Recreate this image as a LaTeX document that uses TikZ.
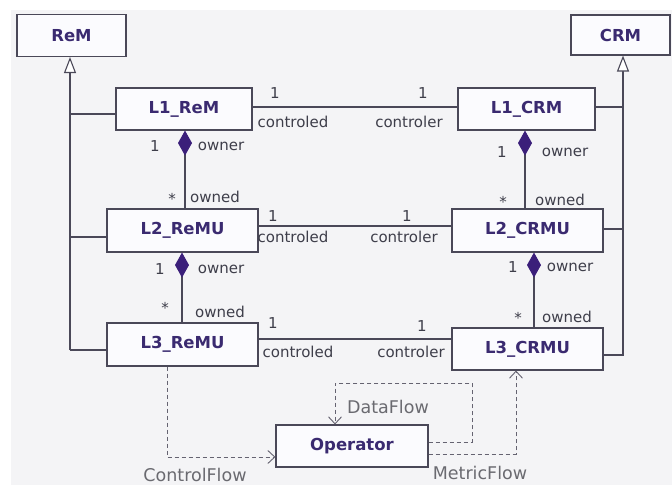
\documentclass[tikz,border=0pt]{standalone}
\usepackage{fontspec}
\setmainfont{DejaVu Sans}
\usetikzlibrary{arrows.meta}
\definecolor{bgc}{HTML}{F4F4F6}
\definecolor{boxfill}{HTML}{FBFBFE}
\definecolor{edge}{HTML}{4A4858}
\definecolor{boxtxt}{HTML}{3A2A70}
\definecolor{lbl}{HTML}{3E3E4A}
\definecolor{flowtxt}{HTML}{6A6A70}
\definecolor{dia}{HTML}{3B1F7A}
\tikzset{
  cls/.style={draw=edge, line width=1.1pt, fill=boxfill, text=boxtxt,
    font=\fontsize{16.5}{18}\selectfont\bfseries, inner sep=0pt,
    minimum height=42pt},
  conn/.style={draw=edge, line width=1.1pt},
  gen/.style={conn, -{Triangle[open, length=16pt, width=12pt, fill=white]}},
  comp/.style={conn, -{Diamond[length=25pt, width=14pt, fill=dia, color=dia]}},
  flow/.style={draw=edge!85, line width=1pt, dash pattern=on 4.5pt off 2.5pt,
    -{Straight Barb[length=7pt, width=13pt, line width=0.9pt]}},
  lab/.style={text=lbl, font=\fontsize{15}{17}\selectfont, inner sep=0pt},
  flab/.style={text=flowtxt, font=\fontsize{17.5}{19}\selectfont, inner sep=0pt},
}
\begin{document}
\begin{tikzpicture}[x=1pt,y=-1pt]
\useasboundingbox (0,0) rectangle (672,485);
\fill[white] (0,0) rectangle (672,485);
\fill[bgc] (11,10) rectangle (672,485);

% classes
\node[cls, minimum width=109pt] (ReM) at (71.5,35.5) {ReM};
\node[cls, minimum width=99pt, minimum height=40pt] (CRM) at (620.5,35) {CRM};
\node[cls, minimum width=136pt] (L1ReM) at (184,109) {L1\_ReM};
\node[cls, minimum width=137pt] (L1CRM) at (526.5,109) {L1\_CRM};
\node[cls, minimum width=151pt, minimum height=43pt] (L2ReMU) at (182.5,230.5) {L2\_ReMU};
\node[cls, minimum width=151pt, minimum height=43pt] (L2CRMU) at (527.5,230.5) {L2\_CRMU};
\node[cls, minimum width=151pt, minimum height=43pt] (L3ReMU) at (182.5,344.5) {L3\_ReMU};
\node[cls, minimum width=151pt] (L3CRMU) at (527.5,349) {L3\_CRMU};
\node[cls, minimum width=152pt] (Op) at (352,446) {Operator};

% helper coordinates
\coordinate (gl) at (70,0);
\coordinate (gr) at (623,0);
\coordinate (gl1) at (70,114);
\coordinate (gl2) at (70,237);
\coordinate (gl3) at (70,350);
\coordinate (gr1) at (623,107);
\coordinate (gr2) at (623,229);
\coordinate (gr3) at (623,355);
\coordinate (a1) at (0,107);
\coordinate (a2) at (0,226);
\coordinate (a3) at (0,339);
\coordinate (c1) at (185,0);
\coordinate (c2) at (182,0);
\coordinate (c3) at (525,0);
\coordinate (c4) at (534,0);
\coordinate (cfx) at (167,0);
\coordinate (cfy) at (0,457);
\coordinate (cfb) at (167,457);
\coordinate (dfy) at (0,442);
\coordinate (dfr) at (472,442);
\coordinate (dft) at (472,383);
\coordinate (dfl) at (335,383);
\coordinate (mfy) at (0,454);
\coordinate (mfr) at (516,454);

% generalizations
\draw[gen] (gl3) -- (ReM.south -| gl);
\draw[conn] (gl1) -- (L1ReM.west |- gl1);
\draw[conn] (gl2) -- (L2ReMU.west |- gl2);
\draw[conn] (gl3) -- (L3ReMU.west |- gl3);
\draw[gen] (L3CRMU.east |- gr3) -- (gr3) -- (CRM.south -| gr);
\draw[conn] (gr1) -- (L1CRM.east |- gr1);
\draw[conn] (gr2) -- (L2CRMU.east |- gr2);

% associations
\draw[conn] (L1ReM.east |- a1) -- (L1CRM.west |- a1);
\draw[conn] (L2ReMU.east |- a2) -- (L2CRMU.west |- a2);
\draw[conn] (L3ReMU.east |- a3) -- (L3CRMU.west |- a3);

% compositions
\draw[comp] (L2ReMU.north -| c1) -- (L1ReM.south -| c1);
\draw[comp] (L3ReMU.north -| c2) -- (L2ReMU.south -| c2);
\draw[comp] (L2CRMU.north -| c3) -- (L1CRM.south -| c3);
\draw[comp] (L3CRMU.north -| c4) -- (L2CRMU.south -| c4);

% flows
\draw[flow] (L3ReMU.south -| cfx) -- (cfb) -- (Op.west |- cfy);
\draw[flow] (Op.east |- dfy) -- (dfr) -- (dft) -- (dfl) -- (Op.north -| dfl);
\draw[flow] (Op.east |- mfy) -- (mfr) -- (L3CRMU.south -| mfr);

% association labels
\node[lab] (m11) at (275,93) {1};
\node[lab] (r11) at (293,122) {controled};
\node[lab] (m12) at (423,93) {1};
\node[lab] (r12) at (409,122) {controler};
\node[lab] (m21) at (273,216) {1};
\node[lab] (r21) at (293,237) {controled};
\node[lab] (m22) at (407,216) {1};
\node[lab] (r22) at (404,237) {controler};
\node[lab] (m31) at (273,323) {1};
\node[lab] (r31) at (298,352) {controled};
\node[lab] (m32) at (422,326) {1};
\node[lab] (r32) at (411,352) {controler};

% composition labels
\node[lab] (o1a) at (155,146) {1};
\node[lab] (o1b) at (221,146) {owner};
\node[lab] (o1c) at (172,199) {*};
\node[lab] (o1d) at (215,197) {owned};
\node[lab] (o2a) at (160,269) {1};
\node[lab] (o2b) at (221,269) {owner};
\node[lab] (o2c) at (165,308) {*};
\node[lab] (o2d) at (220,312) {owned};
\node[lab] (o3a) at (502,152) {1};
\node[lab] (o3b) at (565,152) {owner};
\node[lab] (o3c) at (503,202) {*};
\node[lab] (o3d) at (560,200) {owned};
\node[lab] (o4a) at (513,267) {1};
\node[lab] (o4b) at (570,267) {owner};
\node[lab] (o4c) at (518,318) {*};
\node[lab] (o4d) at (567,317) {owned};

% flow labels
\node[flab] (cfl) at (195,475) {ControlFlow};
\node[flab] (dfl2) at (388,407) {DataFlow};
\node[flab] (mfl) at (480,473) {MetricFlow};
\end{tikzpicture}
\end{document}
